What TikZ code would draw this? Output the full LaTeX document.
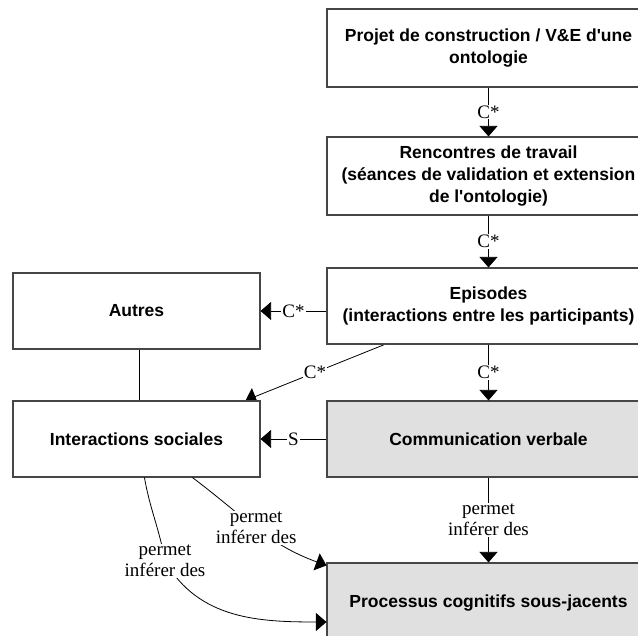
\documentclass[tikz,border=0pt]{standalone}
\usepackage{fontspec}
\setmainfont{Liberation Serif}
\setsansfont{Liberation Sans}
\usetikzlibrary{arrows.meta,calc,backgrounds}

\definecolor{boxline}{RGB}{70,70,70}
\definecolor{boxfill}{RGB}{224,224,224}

\begin{document}
\begin{tikzpicture}[x=1pt,y=1pt,
  box/.style={draw=boxline, line width=1.1pt, fill=white,
    minimum width=323pt, minimum height=78pt, inner sep=0pt, align=center,
    font=\sffamily\bfseries\fontsize{17.5}{22}\selectfont},
  sidebox/.style={box, minimum width=247pt, minimum height=76pt},
  greybox/.style={box, fill=boxfill},
  conn/.style={draw=black, line width=0.8pt},
  arr/.style={conn, -{Triangle[length=10.5pt,width=18pt]}},
  lbl/.style={fill=white, inner sep=1pt, align=center,
    font=\fontsize{19}{21}\selectfont}]

\useasboundingbox (0,0) rectangle (638,636);
\clip (0,0) rectangle (638,636);

% main column
\node[box]      (proj)   at (488.5,588) {Projet de construction / V\&E d\textquotesingle une\\ontologie};
\node[box]      (renc)   at (488.5,460) {Rencontres de travail\\(séances de validation et extension\\de l\textquotesingle ontologie)};
\node[box, minimum height=76pt] (epis) at (488.5,330) {Episodes\\(interactions entre les participants)};
\node[greybox, minimum height=76pt] (comm) at (488.5,197) {Communication verbale};
\node[greybox, minimum height=80pt] (proc) at (488.5,33) {Processus cognitifs sous-jacents};

% side column
\node[sidebox] (autres) at (136.5,325) {Autres};
\node[sidebox] (inter)  at (136.5,197) {Interactions sociales};

% attachment points
\coordinate (e1) at ($(epis.south west)+(58,0)$);
\coordinate (i1) at ($(inter.north east)+(-15,0)$);
\coordinate (c1) at ($(inter.south west)+(180,0)$);
\coordinate (c2) at ($(inter.south west)+(132,0)$);
\coordinate (m2) at (165,75);
\coordinate (p1) at ($(proc.north west)+(0,-3)$);
\coordinate (p2) at ($(proc.west)+(0,-19)$);

% composition links
\draw[arr] (proj.south) -- node[lbl]{C*} (renc.north);
\draw[arr] (renc.south) -- node[lbl]{C*} (epis.north);
\draw[arr] (epis.south) -- node[lbl]{C*} (comm.north);
\draw[arr] (epis.west |- autres.east) -- node[lbl]{C*} (autres.east);
\begin{scope}[on background layer]
  \draw[arr] (e1) -- node[lbl]{C*} (i1);
\end{scope}
\draw[conn] ([xshift=3pt]autres.south) -- ([xshift=3pt]inter.north);
\draw[arr] (comm.west) -- node[lbl]{S} (inter.east);

% inference links
\draw[arr] (comm.south) -- node[lbl]{permet\\inférer des} (proc.north);
\draw[arr] (c1) to[out=-37,in=160] node[lbl]{permet\\inférer des} (p1);
\draw[arr] (c2) to[out=-80,in=100] (m2) node[lbl]{permet\\inférer des}
  to[out=-60,in=180] (p2);

\end{tikzpicture}
\end{document}
